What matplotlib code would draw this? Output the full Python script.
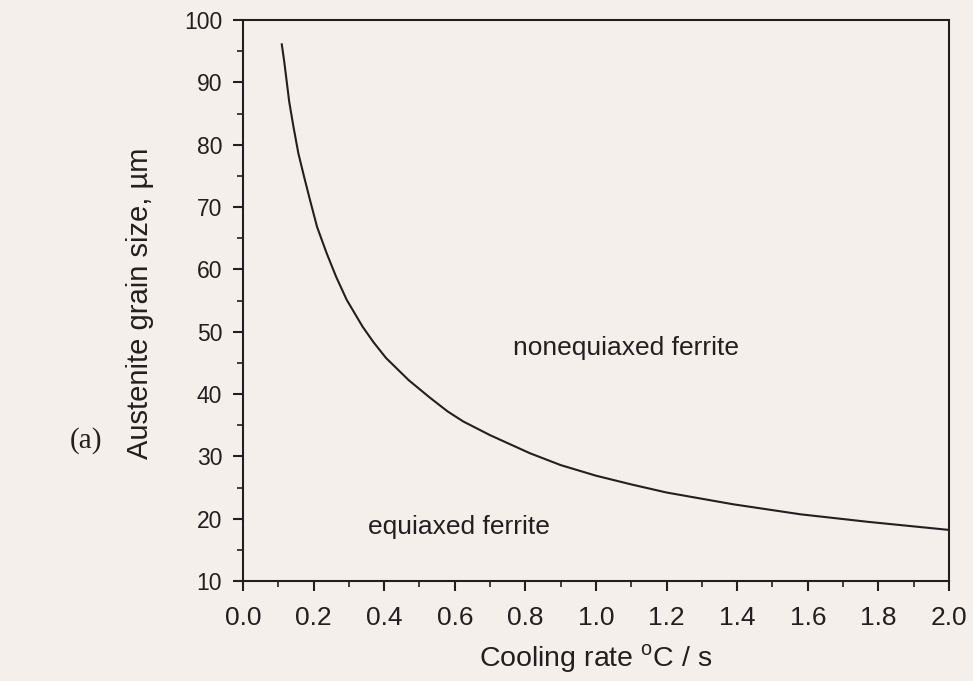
import matplotlib
matplotlib.use("Agg")
import matplotlib.pyplot as plt
from matplotlib.ticker import MultipleLocator

# boundary between equiaxed and nonequiaxed ferrite
cooling_rate = [0.11, 0.117, 0.131, 0.143, 0.157, 0.173, 0.19, 0.21, 0.237,
                0.264, 0.294, 0.339, 0.37, 0.405, 0.47, 0.53, 0.58, 0.624,
                0.7, 0.813, 0.9, 1.0, 1.1, 1.2, 1.39, 1.58, 1.77, 2.0]
grain_size = [96.1, 93.3, 86.9, 82.9, 78.6, 74.9, 71.1, 66.8, 62.6,
              58.8, 55.1, 50.8, 48.3, 45.8, 42.2, 39.4, 37.2, 35.6,
              33.4, 30.5, 28.6, 26.9, 25.5, 24.2, 22.3, 20.7, 19.5, 18.2]

bg = "#f5efeb"
ink = "#231f20"
plt.rcParams["font.family"] = ["Liberation Sans", "DejaVu Sans"]
plt.rcParams["mathtext.fontset"] = "custom"
plt.rcParams["mathtext.rm"] = "Liberation Sans"

fig = plt.figure(figsize=(9.73, 6.81), dpi=100, facecolor=bg)
ax = fig.add_axes([0.2497, 0.1468, 0.7256, 0.8238], facecolor=bg)

ax.plot(cooling_rate, grain_size, color=ink, lw=1.5)

ax.set_xlim(0, 2.0)
ax.set_ylim(10, 100)
ax.xaxis.set_major_locator(MultipleLocator(0.2))
ax.xaxis.set_minor_locator(MultipleLocator(0.1))
ax.yaxis.set_major_locator(MultipleLocator(10))
ax.yaxis.set_minor_locator(MultipleLocator(5))
ax.xaxis.set_major_formatter(lambda v, pos: f"{v:.1f}")

ax.tick_params(which="major", direction="out", length=7, width=1.5, color=ink)
ax.tick_params(which="minor", direction="out", length=4, width=1.2, color=ink)
ax.tick_params(axis="x", labelsize=19, pad=11, labelcolor=ink)
ax.tick_params(axis="y", labelsize=16.5, pad=8, labelcolor=ink)
for s in ax.spines.values():
    s.set_color(ink)
    s.set_linewidth(1.5)

ax.set_xlabel(r"Cooling rate $^{\mathrm{o}}$C / s", fontsize=20.5, color=ink,
              va="center")
ax.xaxis.set_label_coords(0.5, -0.139)
ax.set_ylabel("Austenite grain size, µm", fontsize=21, color=ink, va="center")
ax.yaxis.set_label_coords(-0.146, 0.495)

ax.text(1.085, 47.4, "nonequiaxed ferrite", fontsize=19, color=ink,
        ha="center", va="center")
ax.text(0.612, 18.7, "equiaxed ferrite", fontsize=19, color=ink,
        ha="center", va="center")

fig.text(86 / 973, 1 - 441 / 681, "(a)", fontsize=21, color=ink,
         family="Liberation Serif", ha="center", va="center")

fig.savefig("out.png", dpi=100, facecolor=bg)
